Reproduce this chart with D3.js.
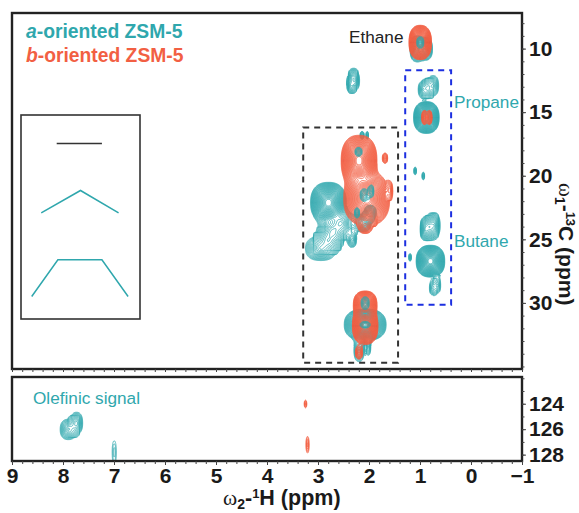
<!DOCTYPE html>
<html>
<head>
<meta charset="utf-8">
<script src="https://cdnjs.cloudflare.com/ajax/libs/d3/7.8.5/d3.min.js"></script>
<style>
body{margin:0;background:#fff;}
svg{display:block;}
text{font-family:"Liberation Sans",Arial,sans-serif;}
</style>
</head>
<body>
<svg id="chart" width="579" height="513"></svg>
<script>
// peaks: [1H ppm, 13C ppm, half width 1H, half width 13C, height]
var tealPeaks = [
    [1.08, 10.0, 0.12, 1.0, 10], [0.90, 10.0, 0.14, 0.9, 10],
    [2.36, 12.9, 0.08, 0.55, 4], [2.28, 12.5, 0.09, 0.75, 4], [2.33, 12.2, 0.08, 0.5, 3],
    [0.95, 13.2, 0.09, 0.65, 4], [0.75, 12.9, 0.11, 0.8, 4], [0.85, 13.1, 0.08, 0.6, 3],
    [0.88, 15.4, 0.25, 1.25, 100],
    [1.10, 19.6, 0.025, 0.3, 2.5], [0.94, 20.0, 0.025, 0.3, 2.5],
    [0.90, 24.2, 0.10, 0.8, 6], [0.73, 23.9, 0.12, 1.0, 6], [0.82, 24.0, 0.13, 0.8, 6],
    [0.80, 26.7, 0.28, 1.25, 100],
    [0.76, 28.8, 0.06, 0.55, 3], [0.66, 28.6, 0.06, 0.6, 3],
    [1.20, 26.4, 0.025, 0.3, 2.5],
    [2.14, 16.8, 0.04, 0.3, 3], [2.04, 16.8, 0.025, 0.3, 2.5],
    [2.80, 22.1, 0.35, 1.6, 100],
    [2.55, 23.7, 0.24, 1.0, 8], [2.72, 24.4, 0.28, 1.1, 8], [2.95, 25.7, 0.30, 0.95, 7], [2.80, 25.1, 0.22, 0.8, 5],
    [2.14, 23.7, 0.18, 0.7, 8], [2.33, 25.0, 0.08, 0.6, 4], [1.98, 22.9, 0.12, 0.6, 5],
    [2.08, 31.7, 0.41, 1.25, 100],
    [2.20, 33.7, 0.10, 0.9, 4], [2.02, 33.4, 0.05, 0.7, 3]
];
var orangePeaks = [
    [1.00, 9.5, 0.22, 1.35, 100],
    [0.92, 15.4, 0.05, 0.55, 6], [0.82, 15.4, 0.05, 0.55, 6],
    [2.20, 18.8, 0.35, 2.0, 100],
    [2.05, 21.8, 0.45, 2.1, 100],
    [1.69, 18.6, 0.05, 0.4, 3], [1.60, 21.1, 0.05, 0.6, 3],
    [2.08, 24.0, 0.12, 0.5, 5], [1.90, 23.3, 0.03, 0.5, 2.5],
    [2.08, 31.8, 0.25, 1.45, 100], [2.08, 30.1, 0.23, 1.05, 60],
    [2.20, 33.9, 0.07, 0.5, 4]
];
var overlayPeaks = [
    [2.21, 18.1, 0.07, 0.35, 3],
    [2.10, 21.5, 0.08, 0.5, 3], [1.96, 21.2, 0.05, 0.5, 3],
    [2.08, 30.0, 0.08, 0.5, 3],
    [2.08, 31.7, 0.10, 0.25, 2.5],
    [1.00, 9.5, 0.07, 0.45, 3],
    [2.24, 22.9, 0.05, 0.4, 3]
];
var tealLowPeaks = [
    [7.74, 125.5, 0.12, 0.85, 5], [7.90, 126.0, 0.16, 0.8, 5],
    [7.00, 127.8, 0.04, 0.9, 1.5]
];
var orangeLowPeaks = [
    [3.25, 124.0, 0.025, 0.3, 2],
    [3.21, 127.2, 0.03, 0.65, 2]
];
var contourLevels = d3.range(30).map(function(i){ return Math.pow(1.16, i); });
var xTicks = [9, 8, 7, 6, 5, 4, 3, 2, 1, 0, -1];
var yTopTicks = [10, 15, 20, 25, 30];
var yLowTicks = [124, 126, 128];
// boxes in ppm: [1H left, 1H right, 13C top, 13C bottom]
var blackBox = [3.29, 1.43, 16.2, 34.7];
var blueBox = [1.29, 0.39, 11.7, 30.15];
// inset sketch, in inset units 0-100
var insetFlat = [[30, 14], [68, 14]];
var insetBent = [[17, 48], [50, 37], [82, 48]];
var insetTrap = [[9, 89], [31, 71], [68, 71], [90, 89]];

var TEAL = "#2fa7ad", ORANGE = "#f25f43", DARK = "#222";
var SUB = 2; // grid cells per pixel

var svg = d3.select("#chart");
var x = d3.scaleLinear().domain([9, -1]).range([12, 522]);
var yTop = d3.scaleLinear().domain([7.2, 35.2]).range([13, 369]);
var yLow = d3.scaleLinear().domain([121.9, 128.5]).range([377, 461]);
var insetX = d3.scaleLinear().domain([0, 100]).range([21, 140]);
var insetY = d3.scaleLinear().domain([0, 100]).range([115, 319]);

function drawPeaks(peaks, yScale, color, width){
    var x0 = x.range()[0], y0 = yScale.range()[0];
    var w = (x.range()[1] - x0) * SUB, h = (yScale.range()[1] - y0) * SUB;
    var grid = new Float64Array(w * h);
    peaks.forEach(function(p){
        var k = Math.log(p[4]);
        var i0 = Math.max(0, Math.floor((x(p[0] + p[2] * 1.3) - x0) * SUB));
        var i1 = Math.min(w - 1, Math.ceil((x(p[0] - p[2] * 1.3) - x0) * SUB));
        var j0 = Math.max(0, Math.floor((yScale(p[1] - p[3] * 1.3) - y0) * SUB));
        var j1 = Math.min(h - 1, Math.ceil((yScale(p[1] + p[3] * 1.3) - y0) * SUB));
        for(var j = j0; j <= j1; j++){
            var v = Math.abs((yScale.invert(y0 + j / SUB) - p[1]) / p[3]);
            for(var i = i0; i <= i1; i++){
                var u = Math.abs((x.invert(x0 + i / SUB) - p[0]) / p[2]);
                var d = Math.pow(Math.pow(u, 2.4) + Math.pow(v, 2.4), 1 / 2.4);
                grid[j * w + i] += p[4] * Math.exp(-k * Math.pow(d, 1.5));
            }
        }
    });
    var contours = d3.contours().size([w, h]).thresholds(contourLevels)(grid);
    var path = d3.geoPath(d3.geoIdentity().scale(1 / SUB).translate([x0, y0]));
    svg.append("g").selectAll("path").data(contours).enter().append("path")
        .attr("d", path)
        .attr("fill", "none")
        .attr("stroke", color)
        .attr("stroke-width", width);
}

drawPeaks(tealPeaks, yTop, TEAL, 0.8);
drawPeaks(orangePeaks, yTop, ORANGE, 0.9);
drawPeaks(overlayPeaks, yTop, TEAL, 0.7);
drawPeaks(tealLowPeaks, yLow, TEAL, 0.8);
drawPeaks(orangeLowPeaks, yLow, ORANGE, 0.8);

// dashed boxes
function dashBox(b, color){
    svg.append("rect")
        .attr("x", x(b[0])).attr("y", yTop(b[2]))
        .attr("width", x(b[1]) - x(b[0])).attr("height", yTop(b[3]) - yTop(b[2]))
        .attr("fill", "none").attr("stroke", color)
        .attr("stroke-width", 2).attr("stroke-dasharray", "6,5");
}
dashBox(blackBox, "#333");
dashBox(blueBox, "#1c2fe0");

// inset
svg.append("rect")
    .attr("x", insetX(0)).attr("y", insetY(0))
    .attr("width", insetX(100) - insetX(0)).attr("height", insetY(100) - insetY(0))
    .attr("fill", "#fff").attr("stroke", "#333").attr("stroke-width", 1.6);
var insetLine = d3.line().x(function(d){ return insetX(d[0]); }).y(function(d){ return insetY(d[1]); });
svg.append("path").attr("d", insetLine(insetFlat)).attr("fill", "none").attr("stroke", "#333").attr("stroke-width", 1.5);
svg.append("path").attr("d", insetLine(insetBent)).attr("fill", "none").attr("stroke", TEAL).attr("stroke-width", 1.5);
svg.append("path").attr("d", insetLine(insetTrap)).attr("fill", "none").attr("stroke", TEAL).attr("stroke-width", 1.5);

// panel frames
[yTop, yLow].forEach(function(s){
    svg.append("rect")
        .attr("x", x.range()[0]).attr("y", s.range()[0])
        .attr("width", x.range()[1] - x.range()[0]).attr("height", s.range()[1] - s.range()[0])
        .attr("fill", "none").attr("stroke", DARK).attr("stroke-width", 2.4);
});

// axes
function minorRange(a, b, step){
    return d3.range(Math.round((b - a) / step) + 1).map(function(i){ return a + i * step; });
}
function styleAxis(g){
    g.select(".domain").remove();
    g.selectAll("line").attr("stroke", "#444").attr("stroke-width", 1);
    g.selectAll("text").attr("font-size", 21).attr("font-weight", "bold").attr("fill", "#1a1a1a")
        .style("font-family", '"Liberation Sans",Arial,sans-serif');
}
var xMinor = minorRange(-1, 9, 0.2);
svg.append("g").attr("transform", "translate(0,369)")
    .call(d3.axisBottom(x).tickValues(xMinor).tickSize(3).tickFormat(""))
    .call(styleAxis);
svg.append("g").attr("transform", "translate(0,461)")
    .call(d3.axisBottom(x).tickValues(xMinor).tickSize(3).tickFormat(""))
    .call(styleAxis);
svg.append("g").attr("transform", "translate(0,461)")
    .call(d3.axisBottom(x).tickValues(xTicks).tickSize(4).tickPadding(3).tickFormat(d3.format("d")))
    .call(styleAxis);
svg.append("g").attr("transform", "translate(522,0)")
    .call(d3.axisRight(yTop).tickValues(minorRange(8, 35, 1)).tickSize(2.5).tickFormat(""))
    .call(styleAxis);
svg.append("g").attr("transform", "translate(522,0)")
    .call(d3.axisRight(yTop).tickValues(yTopTicks).tickSize(4).tickPadding(3).tickFormat(d3.format("d")))
    .call(styleAxis);
svg.append("g").attr("transform", "translate(522,0)")
    .call(d3.axisRight(yLow).tickValues(minorRange(122, 128, 1)).tickSize(2.5).tickFormat(""))
    .call(styleAxis);
svg.append("g").attr("transform", "translate(522,0)")
    .call(d3.axisRight(yLow).tickValues(yLowTicks).tickSize(4).tickPadding(3).tickFormat(d3.format("d")))
    .call(styleAxis);

// legend
function legend(letter, rest, yPos, color){
    var t = svg.append("text").attr("x", 26).attr("y", yPos)
        .attr("font-size", 19.3).attr("font-weight", "bold").attr("fill", color);
    t.append("tspan").attr("font-style", "italic").text(letter);
    t.append("tspan").text(rest);
}
legend("a", "-oriented ZSM-5", 38, TEAL);
legend("b", "-oriented ZSM-5", 62, ORANGE);

// labels
function label(txt, lx, ly, color){
    svg.append("text").attr("x", lx).attr("y", ly).attr("font-size", 17.2).attr("fill", color).text(txt);
}
label("Ethane", 349, 43, "#222");
label("Propane", 454, 108, TEAL);
label("Butane", 454, 247, TEAL);
label("Olefinic signal", 33, 404, TEAL);

// axis titles
function axisTitle(t, sub, sup, rest){
    t.append("tspan").style("font-family", '"Liberation Serif",serif').attr("font-weight", "normal").text("\u03c9");
    t.append("tspan").attr("font-size", 14).attr("dy", 4).text(sub);
    t.append("tspan").attr("dy", -4).text("-");
    t.append("tspan").attr("font-size", 13).attr("dy", -7).text(sup);
    t.append("tspan").attr("dy", 7).text(rest);
}
var xt = svg.append("text").attr("x", 223).attr("y", 505)
    .attr("font-size", 21.5).attr("font-weight", "bold").attr("fill", "#1a1a1a");
axisTitle(xt, "2", "1", "H (ppm)");
var yt = svg.append("text").attr("transform", "translate(559,183) rotate(90)")
    .attr("font-size", 21).attr("font-weight", "bold").attr("fill", "#1a1a1a");
axisTitle(yt, "1", "13", "C (ppm)");
</script>
</body>
</html>
